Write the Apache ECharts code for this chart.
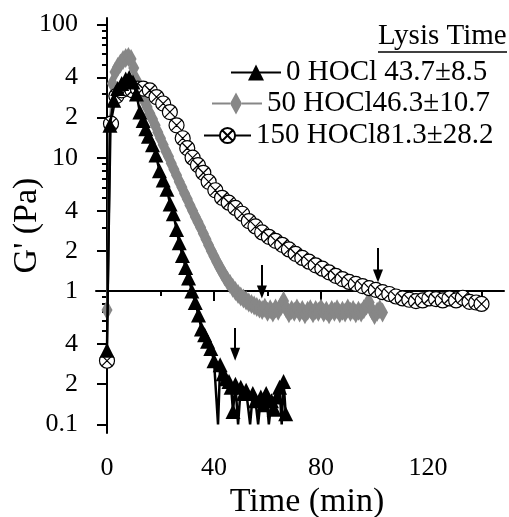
<!DOCTYPE html>
<html><head><meta charset="utf-8">
<script src="https://cdn.jsdelivr.net/npm/echarts@6/dist/echarts.min.js"></script>
<style>html,body{margin:0;padding:0;background:#fff}#c{width:509px;height:517px}</style>
</head><body><div id="c"></div>
<script>
// ---------- data ----------
const seriesNames = ['0 HOCl 43.7±8.5', '50 HOCl46.3±10.7', '150 HOCl81.3±28.2'];

// 0 HOCl (black triangles)
const time0 = [0, 1.1, 2.5, 4, 5.5, 7, 8.3, 9.7, 11, 12.3, 13.5, 14.5, 15.5, 17, 18.3, 19.6, 21, 22.4, 23.6, 24.8,
  26, 27, 28.2, 29.4, 30.5, 31.7, 33, 34.2, 35.3, 36.5, 37.6, 38.8, 40, 41.5, 42.3, 43.4, 44.5, 45.6, 46.4, 47.1,
  48, 49, 50, 51, 52, 53.5, 54.5, 55.5, 56.5, 57.5, 58.5, 59.5, 60.5, 61.5, 62.5, 63.5, 64.5, 65.3, 66, 66.8];
const g0 = [0.36, 17.5, 27, 33, 36, 39, 40, 37, 30, 22, 19, 16.5, 14.5, 12.5, 10.5, 8, 6.8, 5.8, 4.5, 3.8,
  2.9, 2.3, 1.85, 1.5, 1.25, 1.0, 0.82, 0.66, 0.52, 0.47, 0.42, 0.37, 0.30, 0.1, 0.28, 0.24, 0.22, 0.21, 0.19, 0.125,
  0.2, 0.1, 0.19, 0.17, 0.18, 0.1, 0.17, 0.15, 0.1, 0.16, 0.14, 0.17, 0.1, 0.15, 0.13, 0.16, 0.19, 0.1, 0.21, 0.12];

// 50 HOCl (grey diamonds)
const time50 = [0,1,2,3,4,5,6,7,8,9,10,11,12,13,14,15,16,17,18,19,20,21,22,23,24,25,26,27,28,29,30,31,32,33,34,35,
  36,37,38,39,40,41,42,43,44,45,46,47,48,49,50,51,52,53,54,55,56,57,58,59,60,61,62,63,64,65,66,67,68,69,70,
  71,72,73,74,75,76,77,78,79,80,81,82,83,84,85,86,87,88,89,90,91,92,93,94,95,96,97,98,99,100,101,102,103];
const g50 = [0.72, 18, 36, 44, 48, 51, 54, 56, 57, 55, 47, 38, 33, 29.5, 26.5, 24, 21.5, 19.5, 17.5, 15.5,
  14, 12.5, 11.2, 10.2, 9.1, 8.2, 7.4, 6.6, 6.0, 5.4, 4.9, 4.4, 4.0, 3.6, 3.3, 3.0,
  2.7, 2.45, 2.2, 2.0, 1.82, 1.66, 1.52, 1.40, 1.29, 1.20, 1.13, 1.06, 1.00, 0.95, 0.91, 0.88, 0.85, 0.82, 0.80, 0.78, 0.76,
  0.74, 0.72, 0.75, 0.70, 0.73, 0.69, 0.74, 0.71, 0.77, 0.84, 0.74, 0.68, 0.72, 0.70,
  0.74, 0.69, 0.72, 0.67, 0.71, 0.73, 0.68, 0.72, 0.70, 0.74, 0.69, 0.71, 0.67, 0.72, 0.70, 0.73, 0.68, 0.71, 0.69,
  0.74, 0.70, 0.72, 0.68, 0.71, 0.69, 0.73, 0.78, 0.82, 0.72, 0.66, 0.70, 0.73, 0.69];

// 150 HOCl (circles with x)
const time150 = [0, 1.5, 3.5, 5.5, 7.5, 9.5, 11.5, 13.5, 16, 18.5, 21, 23.5, 26, 28.3, 30, 32, 34, 36, 38, 40.5,
  43, 45.5, 48, 50.5, 53, 55.5, 58, 60.5, 63, 65.5, 68, 70.5, 73, 75.5, 78, 80.5, 83, 85.5, 88, 90.5,
  93, 95.5, 98, 100.5, 103, 105.5, 108, 110.5, 113, 115.5, 118, 120.5, 123, 125.5, 128, 130.5, 133, 135.5, 138, 140];
const g150 = [0.30, 18, 29, 32, 33, 32, 33, 33, 32, 28.5, 25.5, 22, 17.5, 14, 11.8, 10, 8.8, 7.7, 6.6, 5.7,
  5.0, 4.6, 4.2, 3.8, 3.35, 3.05, 2.75, 2.55, 2.38, 2.22, 2.05, 1.9, 1.77, 1.66, 1.56, 1.47, 1.38, 1.30, 1.23, 1.17,
  1.13, 1.09, 1.05, 1.02, 0.98, 0.95, 0.91, 0.88, 0.86, 0.84, 0.85, 0.88, 0.87, 0.85, 0.88, 0.85, 0.89, 0.83, 0.82, 0.80];

// lysis-time arrows: time, top value, end value
const arrowTimes = [47.9, 57.9, 101.3];
const arrowTops = [0.527, 1.567, 2.10];
const arrowEnds = [0.336, 0.983, 1.296];

// axis ticks
const yMajorTicks = [0.1, 0.2, 0.4, 1, 2, 4, 10, 20, 40, 100];
const yTickLabels = ['0.1', '2', '4', '1', '2', '4', '10', '2', '4', '100'];
const yMinorTicks = [0.3, 0.5, 0.6, 0.7, 0.8, 0.9, 3, 5, 6, 7, 8, 9, 30, 50, 60, 70, 80, 90];
const xMajorTicks = [0, 40, 80, 120];
const xMinorTicks = [20, 60, 100, 140];

// ---------- chart ----------
const FONT = '"Liberation Serif", "Times New Roman", serif';
const L = Math.log10;
const toData = (ts, gs) => ts.map((t, i) => {
  const item = { value: [t, L(gs[i])] };
  if (gs[i] <= 0.1) item.symbol = 'none';
  return item;
});
const X_MIN = -4.11, X_MAX = 148.4, Y_MIN = -1.065, Y_MAX = 2.048;
const circleX = 'path://M0,10A10,10 0 1 1 20,10A10,10 0 1 1 0,10Z M3.5,3.5L16.5,16.5 M16.5,3.5L3.5,16.5';
const diamondIcon = 'path://M0,10H18V12H0Z M24,0L30,11L24,22L18,11Z M30,10H50V12H30Z';

function arrowMark(i) {
  return {
    silent: true, animation: false,
    symbol: ['none', 'triangle'],
    lineStyle: { color: '#000', width: 2, type: 'solid' },
    label: { show: false },
    emphasis: { disabled: true },
    data: [[
      { coord: [arrowTimes[i], L(arrowTops[i])], symbol: 'none' },
      { coord: [arrowTimes[i], L(arrowEnds[i])], symbol: 'triangle', symbolSize: [10, 13] }
    ]]
  };
}

const chart = echarts.init(document.getElementById('c'), null, { renderer: 'canvas' });
const legendText = { fontFamily: FONT, fontSize: 29, color: '#000', lineHeight: 29 };
chart.setOption({
  animation: false,
  backgroundColor: '#fff',
  grid: { left: 96, right: 5, top: 18, bottom: 84, containLabel: false, outerBoundsMode: 'none' },
  title: {
    text: 'Lysis Time', left: 378, top: 22, padding: 0,
    textStyle: { fontFamily: FONT, fontSize: 29, fontWeight: 'normal', color: '#000' }
  },
  graphic: [{ type: 'line', shape: { x1: 378, y1: 52, x2: 507, y2: 52 }, style: { stroke: '#000', lineWidth: 1.5 }, silent: true }],
  legend: [
    { data: [seriesNames[0]], left: 230, top: 58, padding: 0, itemWidth: 50, itemHeight: 20, selectedMode: false, textStyle: legendText },
    { data: [{ name: seriesNames[1], icon: diamondIcon }], left: 212, top: 89, padding: 0, itemWidth: 50, itemHeight: 22, selectedMode: false, textStyle: legendText },
    { data: [seriesNames[2]], left: 203, top: 121, padding: 0, itemWidth: 47, itemHeight: 19, selectedMode: false, textStyle: legendText }
  ],
  xAxis: [{
    type: 'value', min: X_MIN, max: X_MAX, position: 'bottom',
    axisLine: { lineStyle: { color: '#000', width: 2 } },
    axisTick: { customValues: xMajorTicks, length: 10, lineStyle: { color: '#000', width: 2 } },
    axisLabel: { customValues: xMajorTicks, margin: 22, fontFamily: FONT, fontSize: 26, color: '#000' },
    splitLine: { show: false },
    name: 'Time (min)', nameLocation: 'middle', nameGap: 52, nameMoveOverlap: false,
    nameTextStyle: { fontFamily: FONT, fontSize: 34, color: '#000', padding: [0, 0, 0, 14] }
  }, {
    type: 'value', min: X_MIN, max: X_MAX, position: 'bottom',
    axisLine: { show: false },
    axisTick: { customValues: xMinorTicks, length: 5, lineStyle: { color: '#000', width: 2 } },
    axisLabel: { show: false }, splitLine: { show: false }
  }],
  yAxis: [{
    type: 'value', min: Y_MIN, max: Y_MAX, position: 'left',
    axisLine: { show: true, lineStyle: { color: '#000', width: 2 } },
    axisTick: { show: true, customValues: yMajorTicks.map(L), length: 10, lineStyle: { color: '#000', width: 2 } },
    axisLabel: {
      customValues: yMajorTicks.map(L), margin: 18, fontFamily: FONT, fontSize: 26, color: '#000',
      formatter: v => {
        let best = 0, d = 1e9;
        yMajorTicks.forEach((t, i) => { const e = Math.abs(L(t) - v); if (e < d) { d = e; best = i; } });
        return yTickLabels[best];
      }
    },
    splitLine: { show: false },
    name: "G' (Pa)", nameLocation: 'middle', nameGap: 52, nameRotate: 90, nameMoveOverlap: false,
    nameTextStyle: { fontFamily: FONT, fontSize: 34, color: '#000' }
  }, {
    type: 'value', min: Y_MIN, max: Y_MAX, position: 'left', offset: 0,
    axisLine: { show: false },
    axisTick: { show: true, customValues: yMinorTicks.map(L), length: 5, lineStyle: { color: '#000', width: 2 } },
    axisLabel: { show: false }, splitLine: { show: false }
  }],
  series: [
    {
      name: seriesNames[1], type: 'line', data: toData(time50, g50),
      symbol: 'diamond', symbolSize: [11, 20],
      itemStyle: { color: '#878787' }, lineStyle: { color: '#878787', width: 2 },
      emphasis: { disabled: true }, silent: true, z: 2,
      markLine: arrowMark(1)
    },
    {
      name: seriesNames[2], type: 'line', data: toData(time150, g150),
      symbol: circleX, symbolSize: 15,
      itemStyle: { color: '#fff', borderColor: '#000', borderWidth: 1.2 },
      lineStyle: { color: '#000', width: 1.5 },
      emphasis: { disabled: true }, silent: true, z: 3,
      markLine: arrowMark(2)
    },
    {
      name: seriesNames[0], type: 'line', data: toData(time0, g0),
      symbol: 'triangle', symbolSize: 15,
      itemStyle: { color: '#000' }, lineStyle: { color: '#000', width: 2.5 },
      emphasis: { disabled: true }, silent: true, z: 4,
      markLine: arrowMark(0)
    }
  ]
});
</script>
</body></html>
